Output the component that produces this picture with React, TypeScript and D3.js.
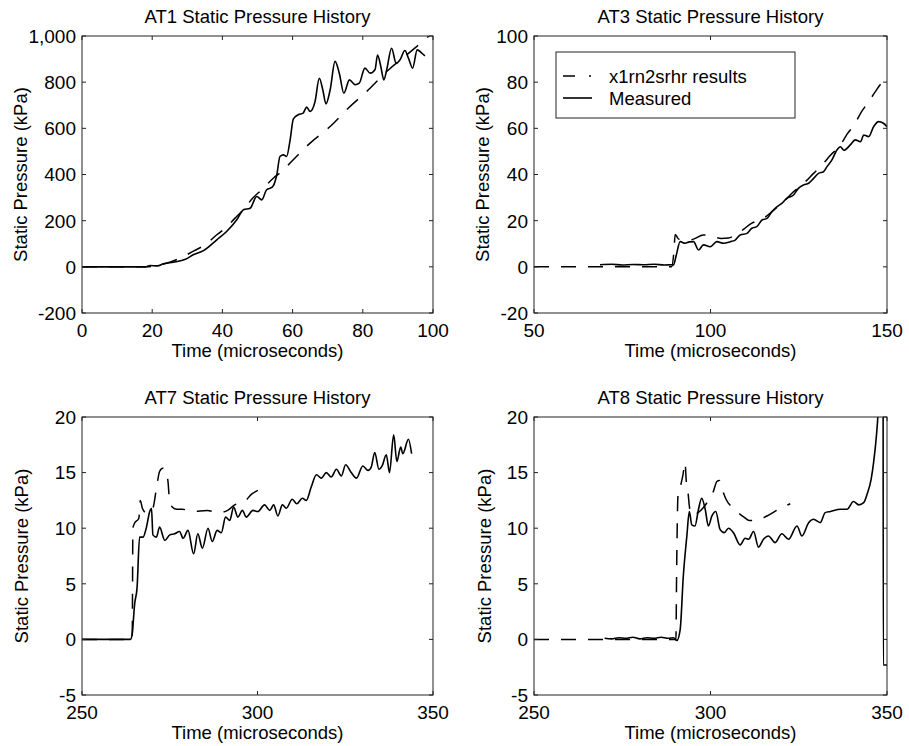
import React from "react";
import * as d3 from "d3";

// ---- AT1 ----
const at1ModelTime = [0, 18, 22, 25.6, 28.9, 32, 35, 38.4, 41.2, 43.6, 45.5, 48.8, 51.2, 54.5, 56.9, 59.7, 65, 70.7, 75.9, 81.6, 87.3, 92.5, 98.7, 100];
const at1ModelP = [0, 0, 8, 23, 45, 70, 95, 139, 172, 211, 240, 300, 334, 384, 413, 456, 536, 608, 688, 767, 853, 918, 998, 1015];
const at1MeasTime = [0, 18, 19.4, 21.5, 23.2, 26, 29.5, 31.7, 34.6, 38.4, 41.2, 44.1, 46, 47.9, 49.8, 51.2, 52.6, 54.2, 55.5, 56.4, 57.4, 58.3, 59.3, 60.2, 61.6, 63, 64, 65, 66.4, 67.6, 68.6, 69.5, 70.7, 72.1, 73.3, 74.6, 76.2, 77.8, 79, 80.6, 82.1, 83.5, 84.2, 85.1, 86, 86.8, 88.2, 89.5, 90.6, 92, 93, 94.2, 95.5, 96.8, 97.7];
const at1MeasP = [0, 0, 6, 4, 13, 20, 33, 52, 70, 117, 153, 204, 247, 254, 305, 290, 334, 345, 399, 478, 485, 478, 550, 640, 659, 666, 692, 673, 716, 817, 767, 706, 767, 890, 839, 752, 810, 789, 796, 861, 839, 855, 918, 870, 810, 853, 947, 882, 897, 937, 904, 861, 940, 926, 914];

// ---- AT3 ----
const at3ModelTime = [50, 89, 89.6, 90, 91, 93, 95.2, 98, 101.3, 103, 105.1, 108.4, 111.7, 115, 117.9, 120.7, 123.5, 126.4, 129.2, 131.6, 133.9, 136.8, 138.7, 141, 142.5, 144.8, 146.7, 149, 150];
const at3ModelP = [0, 0, 6, 14, 12, 11.5, 12, 13.8, 12.8, 12.3, 12.5, 15.2, 18.9, 21, 24.6, 28.2, 32.5, 36.2, 40.5, 44.1, 48.2, 52.8, 57.5, 62.2, 66.5, 71.5, 75.9, 80.6, 82];
const at3MeasTime = [68.7, 72, 75, 78, 81, 84, 87, 89, 89.5, 90.3, 91.4, 92.8, 94, 95.2, 96.6, 98, 99.9, 101.8, 103.7, 105.6, 107, 108.4, 110.3, 111.7, 113.1, 114.6, 116, 117.4, 118.8, 120.2, 121.6, 123.5, 124.9, 126.4, 127.8, 129.2, 130.6, 132, 133, 134.4, 135.8, 136.8, 137.8, 139.6, 141, 142.5, 143.4, 144.8, 146.2, 147.6, 149, 150];
const at3MeasP = [0.9, 1.1, 0.8, 1.0, 0.9, 1.1, 0.8, 0.9, 0.8, 5, 10.9, 10.2, 10.8, 10.9, 7.3, 9.5, 8.7, 10.9, 10.2, 10.9, 11.6, 13.8, 14.5, 16.7, 17.4, 20.3, 21, 23.9, 26, 27.5, 29.7, 31.1, 34, 35.5, 36.2, 38.3, 40.5, 41.2, 43.4, 46.3, 50.6, 52, 50.5, 52.8, 55, 54.2, 57.1, 56.4, 60.7, 62.9, 62.2, 60.7];

// ---- AT7 ----
const at7ModelTime = [250, 264.3, 264.5, 264.9, 266.2, 266.6, 267.2, 268.6, 270.2, 271.4, 272.1, 273, 273.6, 274.5, 274.8, 275.7, 277, 278.6, 281.6, 285.6, 289, 291.5, 293.5, 295.9, 298.5, 300.1];
const at7ModelP = [0, 0, 10, 10.4, 10.9, 12.5, 11.8, 11.3, 11.8, 14, 15.1, 15.4, 15.3, 14.2, 13, 11.9, 11.7, 11.7, 11.5, 11.6, 11.4, 11.6, 12.1, 12.3, 13.1, 13.4];
const at7MeasTime = [250, 263.8, 264.3, 265, 265.7, 266.4, 267.4, 268.3, 269.3, 269.8, 270.2, 271.2, 272.1, 273.6, 275, 276.4, 277.8, 278.8, 280.2, 281.8, 283, 284.3, 285.9, 287.1, 288.5, 289.7, 290.9, 292.1, 293.2, 294.4, 295.7, 296.8, 298.7, 300.1, 302, 303.5, 304.6, 305.8, 307.1, 308.2, 309.9, 311.2, 312.8, 313.9, 315.3, 316.8, 318.2, 319.6, 321, 322.5, 323.9, 325.1, 326.7, 328.2, 330, 331.5, 332.4, 333.4, 334.6, 335.5, 336.7, 337.6, 338.8, 339.7, 340.8, 341.4, 343, 343.9];
const at7MeasP = [0, 0, 0.5, 3.2, 4.7, 9.2, 9.2, 10, 11.5, 11.8, 9.4, 9.2, 10.1, 8.9, 9.4, 9.5, 9.7, 9.1, 9.8, 7.7, 9.5, 8.2, 10, 8.8, 9.8, 9.6, 11, 10.7, 11.9, 11, 11.6, 11, 11.6, 11.5, 12.1, 11.6, 12.1, 11.1, 12.1, 11.8, 12.6, 12.2, 12.7, 12.5, 13.7, 14.8, 14.5, 15, 14.6, 15.3, 14.7, 15.7, 15, 14.5, 15.6, 15.2, 15.5, 16.8, 15.3, 15.6, 16.6, 15, 18.4, 16, 17.3, 16.7, 18, 16.7];

// ---- AT8 ----
const at8ModelTime = [250, 290.2, 290.4, 290.8, 291.5, 292.2, 292.8, 293.1, 293.7, 294, 294.6, 296.5, 298.8, 300.8, 301.8, 302.5, 303.2, 304.4, 306.8, 309.5, 311, 312.9, 316, 319.3, 322.6];
const at8ModelP = [0, 0, 6, 13, 13.8, 14.8, 15.9, 14.4, 13, 12, 11.2, 11.4, 12.2, 13.3, 14.2, 14.3, 13.6, 12.6, 11.7, 11, 10.7, 10.7, 11.1, 11.7, 12.2];
const at8MeasTime = [270, 272, 274, 276, 278, 280, 282, 284, 286, 288, 289.5, 290.5, 291.4, 292.3, 293.3, 294, 294.7, 295.6, 296.6, 297.5, 298.5, 299.4, 300.4, 301.5, 302.7, 303.9, 305.1, 306.5, 308.4, 309.8, 310.8, 312.2, 313.6, 315, 316.4, 318.3, 320.2, 322.1, 324.5, 325.9, 327.8, 329.2, 331.1, 332.5, 334, 336.8, 338.7, 340.5, 342, 343.4, 344.3, 345.5, 346.2, 347, 347.4, 347.9, 348.4, 348.85, 348.95, 351];
const at8MeasP = [0.1, 0.05, 0.15, 0.1, 0.2, 0.05, 0.15, 0.1, 0.2, 0.1, 0.15, -0.1, 0.85, 5.7, 9.3, 11.5, 10.3, 10.2, 11.7, 12.7, 11.7, 10.2, 11.1, 11.5, 9.9, 9.6, 10, 9.6, 8.5, 9.1, 9, 9.7, 8.3, 9, 9.3, 8.7, 9.5, 9, 10.2, 9.3, 10.5, 10.8, 10.5, 11.4, 11.5, 11.7, 11.7, 12.4, 12.1, 12.3, 13, 14.4, 15.9, 18.3, 20, 24, 32, 45, -2.3, -2.3];

// ---- axes ----
const titles = ["AT1 Static Pressure History", "AT3 Static Pressure History", "AT7 Static Pressure History", "AT8 Static Pressure History"];
const xDomains: [number, number][] = [[0, 100], [50, 150], [250, 350], [250, 350]];
const yDomains: [number, number][] = [[-200, 1000], [-20, 100], [-5, 20], [-5, 20]];
const xTickValues = [[0, 20, 40, 60, 80, 100], [50, 100, 150], [250, 300, 350], [250, 300, 350]];
const yTickValues = [
  [-200, 0, 200, 400, 600, 800, 1000],
  [-20, 0, 20, 40, 60, 80, 100],
  [-5, 0, 5, 10, 15, 20],
  [-5, 0, 5, 10, 15, 20],
];
const xLabel = "Time (microseconds)";
const yLabel = "Static Pressure (kPa)";
const legendLabels = ["x1rn2srhr results", "Measured"];

const modelSeries = [
  [at1ModelTime, at1ModelP],
  [at3ModelTime, at3ModelP],
  [at7ModelTime, at7ModelP],
  [at8ModelTime, at8ModelP],
];
const measuredSeries = [
  [at1MeasTime, at1MeasP],
  [at3MeasTime, at3MeasP],
  [at7MeasTime, at7MeasP],
  [at8MeasTime, at8MeasP],
];

// plot frames: left, top, right, bottom, y-label baseline x
const frames = [
  { l: 82, t: 36, r: 433, b: 313, yl: 27 },
  { l: 534, t: 36, r: 887, b: 313, yl: 489 },
  { l: 82, t: 417, r: 433, b: 695, yl: 28 },
  { l: 534, t: 417, r: 887, b: 695, yl: 491 },
];

const FONT = "'Liberation Sans', Arial, Helvetica, sans-serif";
const FS_TITLE = 18.5;
const FS_TICK = 19;
const FS_LABEL = 18.5;
const TICK = 4;
const DASH = "15,12";

const fmtComma = d3.format(",");
const fmtPlain = (v: number) => fmtComma(v).replace("\u2212", "-");

function Panel({ i }: { i: number }) {
  const f = frames[i];
  const x = d3.scaleLinear().domain(xDomains[i]).range([f.l, f.r]);
  const y = d3.scaleLinear().domain(yDomains[i]).range([f.b, f.t]);
  const line = d3
    .line<[number, number]>()
    .x((d) => x(d[0]))
    .y((d) => y(d[1]))
    .curve(d3.curveMonotoneX);
  const zip = (s: number[][]) => s[0].map((t, k) => [t, s[1][k]] as [number, number]);
  const clipId = `clip-${i}`;
  const cx = (f.l + f.r) / 2;
  const cy = (f.t + f.b) / 2;
  return (
    <g>
      <defs>
        <clipPath id={clipId}>
          <rect x={f.l} y={f.t} width={f.r - f.l} height={f.b - f.t} />
        </clipPath>
      </defs>
      <text x={cx} y={f.t - 13} textAnchor="middle" fontSize={FS_TITLE} fontFamily={FONT}>
        {titles[i]}
      </text>
      <g clipPath={`url(#${clipId})`}>
        <path d={line(zip(modelSeries[i])) || ""} fill="none" stroke="#000" strokeWidth={1.5} strokeDasharray={DASH} />
        <path d={line(zip(measuredSeries[i])) || ""} fill="none" stroke="#000" strokeWidth={1.6} />
      </g>
      <rect x={f.l} y={f.t} width={f.r - f.l} height={f.b - f.t} fill="none" stroke="#222" strokeWidth={1} />
      {xTickValues[i].map((v) => (
        <g key={`x${v}`}>
          <line x1={x(v)} x2={x(v)} y1={f.b} y2={f.b - TICK} stroke="#222" />
          <line x1={x(v)} x2={x(v)} y1={f.t} y2={f.t + TICK} stroke="#222" />
          <text x={x(v)} y={f.b + 24} textAnchor="middle" fontSize={FS_TICK} fontFamily={FONT}>
            {fmtPlain(v)}
          </text>
        </g>
      ))}
      {yTickValues[i].map((v) => (
        <g key={`y${v}`}>
          <line x1={f.l} x2={f.l + TICK} y1={y(v)} y2={y(v)} stroke="#222" />
          <line x1={f.r} x2={f.r - TICK} y1={y(v)} y2={y(v)} stroke="#222" />
          <text x={f.l - 6} y={y(v)} dy="0.36em" textAnchor="end" fontSize={FS_TICK} fontFamily={FONT}>
            {fmtPlain(v)}
          </text>
        </g>
      ))}
      <text x={cx} y={f.b + 44} textAnchor="middle" fontSize={FS_LABEL} fontFamily={FONT}>
        {xLabel}
      </text>
      <text
        transform={`translate(${f.yl},${cy}) rotate(-90)`}
        textAnchor="middle"
        fontSize={FS_LABEL}
        fontFamily={FONT}
      >
        {yLabel}
      </text>
    </g>
  );
}

function Legend() {
  const bx = 556, by = 52, bw = 239, bh = 66;
  return (
    <g>
      <rect x={bx} y={by} width={bw} height={bh} fill="#fff" stroke="#222" strokeWidth={1} />
      <line x1={563} x2={592} y1={76} y2={76} stroke="#000" strokeWidth={1.5} strokeDasharray="12,14,2,20" />
      <text x={609} y={76} dy="0.36em" fontSize={FS_LABEL} fontFamily={FONT}>
        {legendLabels[0]}
      </text>
      <line x1={563} x2={592} y1={98} y2={98} stroke="#000" strokeWidth={1.6} />
      <text x={609} y={98} dy="0.36em" fontSize={FS_LABEL} fontFamily={FONT}>
        {legendLabels[1]}
      </text>
    </g>
  );
}

export default function App() {
  return (
    <svg
      width={909}
      height={746}
      viewBox="0 0 909 746"
      style={{ position: "absolute", left: 0, top: 0, background: "#fff" }}
    >
      <rect width={909} height={746} fill="#fff" />
      {[0, 1, 2, 3].map((i) => (
        <Panel key={i} i={i} />
      ))}
      <Legend />
    </svg>
  );
}
